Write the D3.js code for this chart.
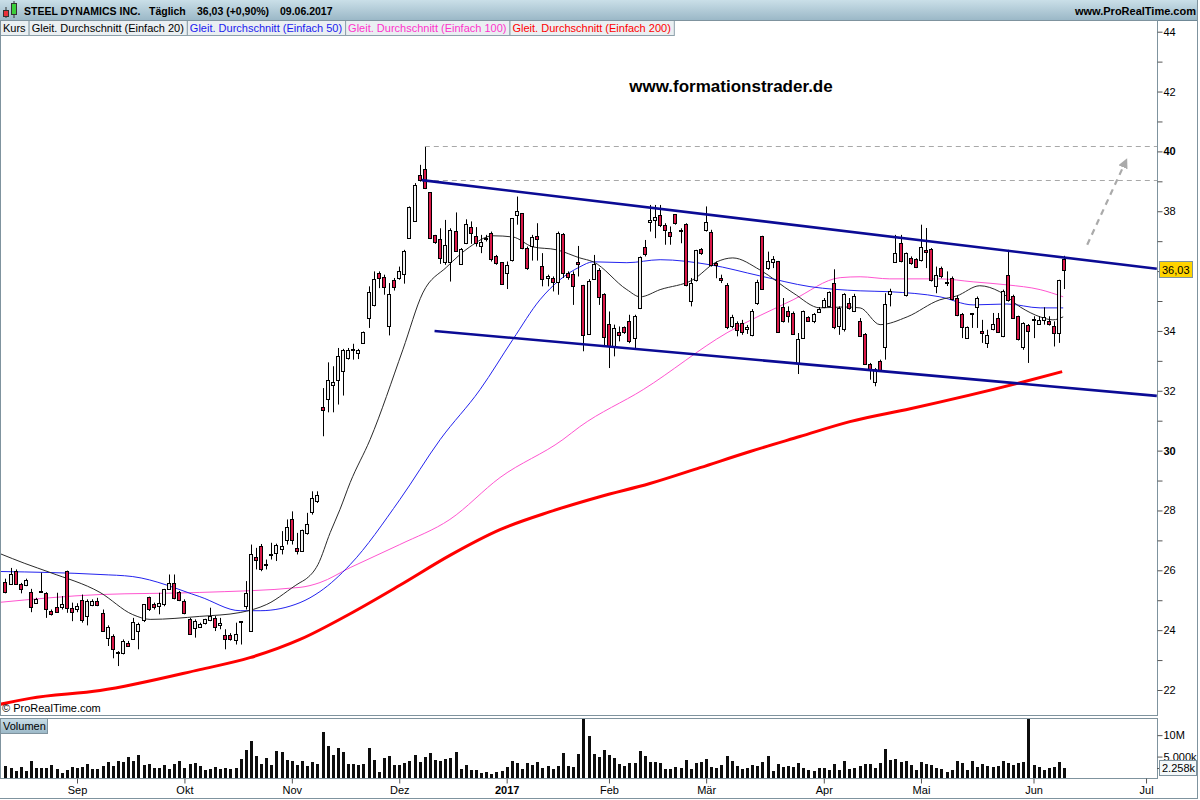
<!DOCTYPE html>
<html><head><meta charset="utf-8">
<script src="https://cdn.jsdelivr.net/npm/d3@7"></script>
<style>
body{margin:0;background:#fff;}
svg{display:block;font-family:Arial,"Liberation Sans",sans-serif;}
</style></head><body>
<svg id="c" width="1200" height="800"></svg>
<script>
// ---------- DATA ----------
const openP = [25.61,25.55,25.97,25.55,25.51,25.28,24.92,25.30,25.23,24.64,24.77,24.75,25.99,24.75,24.69,25.00,24.49,24.84,24.99,24.58,
23.75,23.80,23.25,23.25,23.58,23.71,23.97,24.33,25.12,24.86,24.83,24.86,25.38,25.56,25.27,24.97,24.38,24.08,24.11,24.21,
24.34,24.41,24.19,23.84,23.84,23.69,24.28,24.80,23.99,26.45,26.80,26.19,26.55,26.56,26.71,27.00,27.72,26.75,26.66,27.25,
27.95,28.32,31.46,31.72,32.18,32.37,32.67,33.07,33.40,33.26,33.60,34.43,34.85,35.93,35.80,34.18,35.69,35.77,35.90,37.12,
37.69,39.22,39.40,38.64,37.19,37.07,36.32,36.32,37.35,36.23,36.93,37.47,37.16,36.82,37.09,37.27,36.51,36.30,35.93,36.35,
37.88,37.94,36.77,36.84,37.16,36.18,35.76,35.76,35.63,37.25,35.95,35.90,36.29,35.54,33.90,35.73,36.04,35.23,34.23,33.50,
33.98,34.13,34.32,33.78,34.76,36.82,37.63,37.71,37.88,37.55,37.29,37.90,37.36,37.58,35.01,35.68,36.73,37.38,37.32,36.27,
35.76,35.54,34.17,34.28,34.28,34.05,33.85,34.93,37.18,36.12,36.30,36.34,34.80,34.68,34.60,32.93,33.76,34.46,34.32,34.65,
34.80,34.82,35.60,34.17,34.06,34.93,34.67,34.34,33.90,32.89,32.31,32.98,33.46,35.26,36.32,36.93,35.21,36.45,36.40,36.38,
36.71,36.73,35.51,36.10,35.60,35.76,35.10,34.56,33.76,34.57,34.79,33.99,33.60,34.06,34.43,33.82,35.87,35.18,34.49,33.46,
34.21,34.37,34.24,34.35,34.32,34.17,33.93,36.40];
const highP = [25.72,26.08,26.03,25.58,25.72,25.38,25.08,25.92,25.27,24.69,25.25,25.14,25.99,24.92,24.90,25.19,25.03,25.03,25.08,24.69,
24.16,23.86,23.30,23.69,23.64,24.41,24.25,24.86,25.12,24.92,25.25,25.38,25.86,25.86,25.31,25.03,24.41,24.36,24.25,24.38,
24.75,24.47,24.41,24.03,23.90,24.25,24.30,25.64,26.86,26.75,26.88,26.36,26.92,26.89,27.31,27.70,27.97,27.25,27.36,27.92,
28.64,28.64,32.09,32.95,32.82,33.43,33.40,33.43,33.57,33.40,33.98,35.49,35.99,35.99,35.88,35.60,35.77,36.15,36.71,38.16,
38.94,39.55,40.18,38.64,37.21,37.43,37.71,37.43,37.96,36.77,37.73,37.66,37.47,37.21,37.21,37.32,36.54,36.30,36.32,37.77,
38.49,37.94,36.82,37.21,37.60,36.60,35.88,35.82,37.32,37.27,35.99,35.99,36.84,35.54,35.73,36.54,36.10,35.26,34.65,34.21,
34.15,34.15,34.54,34.54,36.49,37.04,38.21,38.21,38.21,37.60,37.49,37.90,37.43,37.60,35.77,36.71,36.77,38.16,37.38,36.32,
35.88,35.60,34.54,34.32,34.37,34.20,34.73,35.71,37.18,36.65,36.50,36.34,35.10,34.82,34.65,33.93,34.68,34.49,34.60,34.80,
35.10,35.32,36.06,34.82,35.26,35.10,35.24,34.43,33.93,32.93,32.76,33.04,35.26,35.41,37.21,37.21,36.62,36.49,36.43,37.55,
37.44,36.77,36.15,36.15,35.99,35.82,35.18,34.60,34.15,34.60,35.15,34.37,34.04,34.60,34.60,35.38,36.71,35.21,34.51,34.29,
34.23,34.49,34.49,34.79,34.49,34.32,35.71,36.51];
const lowP = [25.23,25.53,25.53,25.23,25.47,24.60,24.89,25.25,24.41,24.49,24.58,24.69,24.58,24.30,24.60,24.25,24.16,24.80,24.80,23.94,
23.47,23.06,22.80,23.19,23.47,23.69,23.36,24.27,24.64,24.69,24.53,24.80,25.36,25.03,24.97,24.53,23.86,23.75,24.08,24.19,
24.30,23.97,24.03,23.36,23.65,23.52,23.52,24.69,23.99,26.03,25.97,26.03,26.36,26.31,26.53,26.86,26.86,26.53,26.64,27.19,
27.86,28.25,30.48,31.28,31.28,31.54,31.84,33.04,33.04,33.06,33.57,34.10,34.82,35.43,35.21,33.85,35.35,35.71,35.58,37.10,
37.66,38.99,38.74,37.07,36.91,36.24,36.21,35.65,36.66,36.21,36.90,36.91,36.82,36.60,36.99,36.32,36.21,35.54,35.40,36.32,
37.55,36.73,36.04,36.35,36.35,35.49,35.49,35.32,35.21,35.77,35.71,34.87,35.82,33.32,33.87,35.71,34.87,33.48,32.76,33.15,
33.65,33.90,33.59,33.43,34.73,36.49,37.32,37.10,37.47,36.88,36.88,37.55,36.93,35.49,34.82,35.65,36.54,37.32,36.15,35.76,
35.60,34.06,34.09,33.82,33.87,33.90,33.82,34.87,35.37,36.04,36.10,33.93,34.28,34.28,33.87,32.56,33.73,34.32,34.26,34.60,
34.76,34.80,34.06,33.87,33.98,34.71,34.63,33.82,32.87,32.37,32.15,32.65,33.04,34.82,36.29,36.29,35.15,36.21,36.10,36.32,
36.10,35.65,35.26,35.76,35.50,35.02,34.49,33.76,33.73,34.10,34.10,33.60,33.43,34.02,33.93,33.79,34.98,34.40,33.68,33.37,
32.93,33.76,34.21,34.21,34.18,33.48,33.60,35.40];
const closeP = [25.27,25.88,25.55,25.38,25.67,24.78,25.05,25.31,24.69,24.53,24.61,24.86,24.75,24.61,24.80,24.33,24.99,24.99,24.84,23.97,
24.11,23.36,23.27,23.64,23.49,24.28,24.21,24.86,24.71,24.75,24.92,25.36,25.58,25.06,24.99,24.56,23.88,24.30,24.22,24.36,
24.47,24.11,24.25,23.71,23.71,23.88,24.30,25.25,26.56,26.36,26.03,26.20,26.56,26.84,26.80,27.45,27.03,26.66,27.36,27.55,
28.42,28.52,31.35,32.37,32.29,33.17,33.37,33.35,33.41,33.37,33.96,35.30,35.73,35.77,35.45,35.24,35.46,36.01,36.68,38.14,
38.88,39.05,38.77,37.10,36.97,36.43,36.88,37.38,36.68,36.73,37.57,37.27,36.91,36.97,37.12,36.40,36.27,35.56,36.21,37.77,
38.01,36.77,36.10,37.13,37.07,35.76,35.82,35.62,37.27,35.95,35.83,35.49,36.23,33.87,35.68,36.24,35.15,33.79,33.48,34.09,
33.87,33.95,33.65,34.51,36.47,36.57,37.71,37.80,37.55,37.38,37.16,37.60,37.33,35.54,35.60,36.69,36.60,37.64,36.21,36.19,
35.68,34.12,34.48,34.06,33.98,34.12,34.65,35.62,35.40,36.34,36.40,33.96,34.34,34.51,33.89,33.74,34.65,34.34,34.56,34.74,
35.04,35.29,34.12,34.76,35.23,34.76,35.18,33.85,32.89,32.73,32.73,32.68,34.90,35.35,36.62,36.32,36.60,36.27,36.13,36.80,
36.65,35.69,35.88,35.84,35.65,35.06,34.54,34.13,34.13,34.60,35.10,33.91,33.87,34.23,33.96,35.32,35.02,34.43,33.71,34.26,
34.01,34.39,34.37,34.46,34.21,33.93,35.71,36.03];
// volume in millions of shares
const volumeM = [2.9,2.4,1.7,2.6,1.7,4.0,2.4,2.4,2.4,3.1,2.2,1.2,1.9,2.6,2.4,2.6,3.3,2.2,2.2,2.9,
3.8,2.9,4.0,3.8,5.0,4.0,5.4,3.1,3.3,2.4,2.4,3.1,2.2,3.3,4.0,2.4,3.3,3.6,2.9,1.9,
2.2,2.6,2.2,2.4,2.2,2.4,4.5,6.6,8.7,5.2,3.3,4.7,3.1,6.4,6.1,4.3,4.0,3.1,4.0,2.9,
3.8,3.3,10.8,7.5,5.4,7.1,6.1,3.3,3.3,3.1,3.3,7.1,4.3,1.5,4.7,5.2,3.1,3.1,3.5,4.0,
5.4,3.8,4.9,5.9,4.3,4.0,4.5,4.7,6.1,2.2,3.1,1.9,1.9,1.2,1.5,1.0,1.5,1.7,2.6,4.0,
3.6,2.2,3.6,3.1,3.8,2.4,2.9,2.2,2.9,5.9,2.9,2.6,5.7,13.8,9.8,5.7,5.0,6.6,5.4,4.7,
3.3,2.9,3.6,3.6,6.4,5.2,3.8,3.8,3.6,2.2,2.2,2.6,2.4,4.3,2.2,3.6,3.8,4.5,2.6,2.4,
3.1,5.2,4.0,2.9,2.2,2.4,3.1,2.9,3.8,5.2,1.7,3.3,2.6,2.9,2.6,3.6,2.4,1.9,1.7,2.4,
2.4,1.9,3.3,1.9,4.0,2.2,2.4,2.9,3.3,3.3,2.4,3.6,6.8,4.3,4.5,3.8,4.0,3.1,1.9,3.8,
3.3,3.1,2.4,2.2,1.5,1.9,4.0,3.6,1.9,4.0,2.6,3.3,2.9,2.6,2.9,4.0,3.6,3.1,3.6,3.8,
14.0,3.1,2.6,1.9,2.4,2.6,3.8,2.26];
// month ticks: trading-day index of first session of each month
const monthTickIdx = [14,35,56,77,98,118,137,160,179,201,223];
const monthLabels = ["Sep","Okt","Nov","Dez","2017","Feb","Mär","Apr","Mai","Jun","Jul"];
const priceTicks = [22,23,24,25,26,27,28,29,30,31,32,33,34,35,36,37,38,39,40,41,42,43,44];
const priceTickLabels = ["22","","24","","26","","28","","30","","32","","34","","","","38","","40","","42","","44"];
const volTicks = [10,5];
const volTickLabels = ["10M","5.000k"];
// moving averages: [trading-day index, price]
const ma20 = [[-1.1,26.56],[3.8,26.23],[8.7,25.93],[18.5,25.26],[24.9,24.52],[28.3,24.36],[38,24.46],[45.9,24.59],[51.1,24.86],[57.6,25.59],[58.6,25.69],[61.1,26.19],[63.5,27.26],[65.4,28.03],[67.4,28.93],[71.3,30.37],[77.7,33.37],[81.6,35.27],[86.3,36.14],[90.8,36.81],[95.3,37.18],[99.2,37.14],[103.1,36.81],[107.8,36.71],[112.3,36.44],[114.9,36.31],[121.5,35.38],[124.1,35.14],[128,35.38],[134.4,35.71],[139.1,36.31],[142.2,36.44],[147.5,36.04],[154,35.27],[159.3,34.77],[163.8,34.80],[167.1,34.77],[171,34.21],[176.3,34.47],[182.7,35.04],[186,35.17],[190.5,35.51],[194.4,35.31],[198.4,34.80],[202.3,34.47],[204.8,34.37],[206.8,34.47]];
const ma50 = [[-1.1,25.96],[18.5,25.86],[24.9,25.79],[38,25.12],[45.9,24.65],[49.8,24.65],[57.6,24.92],[61.5,25.29],[67.4,26.19],[77.1,28.36],[85,30.37],[92.8,32.04],[99.2,33.71],[104.5,35.04],[108.4,35.71],[112.3,36.14],[114.9,36.31],[121.5,36.28],[128,36.38],[137.8,36.21],[147.5,35.84],[157.3,35.48],[167.1,35.34],[172.9,35.31],[182.7,35.14],[189.2,34.87],[195.8,34.90],[202.3,34.77],[206.8,34.77]];
const ma100 = [[-1.1,24.93],[18.5,25.19],[38,25.26],[57.6,25.43],[61.5,25.59],[67.4,26.09],[77.1,26.86],[86.9,27.70],[96.7,29.10],[109,30.37],[112.3,30.80],[124.7,32.04],[141.1,33.94],[154,35.04],[163.2,35.78],[167.1,35.81],[172.9,35.74],[182.7,35.74],[189.2,35.64],[195.8,35.54],[202.3,35.38],[206.8,35.14]];
const ma200 = [[-1.1,21.52],[4.8,21.72],[18.5,21.98],[38,22.68],[47.8,23.08],[57.6,23.69],[67.4,24.55],[77.1,25.50],[86.9,26.50],[96.7,27.36],[106.5,27.96],[116.2,28.46],[126,28.90],[135.8,29.43],[145.6,29.97],[155.3,30.47],[165.1,30.97],[176.9,31.40],[198.4,32.27],[206.6,32.64]];
// drawn channel, resistance levels and target arrow: [index, price]
const trendUpper = [[81.4,39.04],[225.1,36.08]];
const trendLower = [[83.9,34.00],[225.1,31.83]];
const dashedLevels = [40.17,39.05];
const dashedStartIdx = 82;
const targetArrow = [[211.5,36.88],[218.9,39.62]];
const lastPriceLabel = "36,03";
const lastVolLabel = "2.258k";
const legendItems = [
  {t:"Kurs", c:"#000"},
  {t:"Gleit. Durchschnitt (Einfach 20)", c:"#000"},
  {t:"Gleit. Durchschnitt (Einfach 50)", c:"#1b1bef"},
  {t:"Gleit. Durchschnitt (Einfach 100)", c:"#ff33cc"},
  {t:"Gleit. Durchschnitt (Einfach 200)", c:"#ff0000"}
];

// ---------- LAYOUT ----------
const svg = d3.select("#c");
const plotR = 1157, plotT = 20, plotB = 715, volT = 718, volB = 778;
const frameCol = "#7f939e";

const x = d3.scaleLinear().domain([0,207]).range([5.4,1064.2]);
const y = d3.scaleLinear().domain([22,44]).range([690,31.7]);
const yv = d3.scaleLinear().domain([0,14]).range([volB,volT]);

const defs = svg.append("defs");
const hg = defs.append("linearGradient").attr("id","hg").attr("x1",0).attr("y1",0).attr("x2",0).attr("y2",1);
hg.append("stop").attr("offset","0%").attr("stop-color","#cadfe8");
hg.append("stop").attr("offset","100%").attr("stop-color","#9bb8c7");
defs.append("clipPath").attr("id","mainClip").append("rect")
  .attr("x",1).attr("y",plotT+1).attr("width",plotR-1).attr("height",plotB-plotT-1);
defs.append("clipPath").attr("id","volClip").append("rect")
  .attr("x",1).attr("y",volT+1).attr("width",plotR-1).attr("height",volB-volT-1);
defs.append("marker").attr("id","ah").attr("viewBox","0 0 10 10").attr("refX",5).attr("refY",5)
  .attr("markerWidth",4.5).attr("markerHeight",4.5).attr("orient","auto")
  .append("path").attr("d","M0,0 L10,5 L0,10 z").attr("fill","#aaaaaa");

svg.append("rect").attr("width",1200).attr("height",800).attr("fill","#fff");

// header
svg.append("rect").attr("x",0).attr("y",0).attr("width",1198).attr("height",20).attr("fill","url(#hg)");
svg.append("line").attr("x1",0).attr("x2",1198).attr("y1",20.5).attr("y2",20.5).attr("stroke","#6f8896");
// small candle icon
svg.append("line").attr("x1",6).attr("x2",6).attr("y1",7).attr("y2",18).attr("stroke","#333");
svg.append("rect").attr("x",3.5).attr("y",10.5).attr("width",5).attr("height",6).attr("fill","#e8303a").attr("stroke","#333");
svg.append("line").attr("x1",14).attr("x2",14).attr("y1",1).attr("y2",18).attr("stroke","#333");
svg.append("rect").attr("x",11.5).attr("y",3.5).attr("width",5).attr("height",11).attr("fill","#3ccf3c").attr("stroke","#333");
const hdr = [["STEEL DYNAMICS INC.",24],["Täglich",149],["36,03 (+0,90%)",197],["09.06.2017",280]];
svg.selectAll("text.hdr").data(hdr).join("text").attr("class","hdr")
  .attr("x",d=>d[1]).attr("y",15).attr("font-size","10.5px").attr("font-weight","bold").attr("fill","#000").text(d=>d[0]);
svg.append("text").attr("x",1196).attr("y",15).attr("text-anchor","end").attr("font-size","11px")
  .attr("font-weight","bold").text("www.ProRealTime.com");

// panels
const mainG = svg.append("g").attr("clip-path","url(#mainClip)");
const volG = svg.append("g").attr("clip-path","url(#volClip)");

// MA lines
const line = d3.line().x(d=>x(d[0])).y(d=>y(d[1])).curve(d3.curveMonotoneX);
const maSpecs = [
  {d:ma200,c:"#ff0000",w:3},
  {d:ma100,c:"#ff55d0",w:1},
  {d:ma50,c:"#2323ee",w:1},
  {d:ma20,c:"#2a2a2a",w:1}
];
maSpecs.forEach(m=>{
  mainG.append("path").attr("d",line(m.d)).attr("fill","none").attr("stroke",m.c).attr("stroke-width",m.w);
});

// candles
const idx = d3.range(openP.length);
const cxOf = i => Math.round(x(i));
const cg = mainG.append("g");
cg.selectAll("line.wick").data(idx).join("line").attr("class","wick")
  .attr("x1",i=>cxOf(i)+0.5).attr("x2",i=>cxOf(i)+0.5)
  .attr("y1",i=>y(highP[i])).attr("y2",i=>y(lowP[i]))
  .attr("stroke","#000").attr("stroke-width",1);
cg.selectAll("rect.body").data(idx).join("rect").attr("class","body")
  .attr("x",i=>cxOf(i)-1.5).attr("width",3)
  .attr("y",i=>Math.round(y(Math.max(openP[i],closeP[i])))+0.5)
  .attr("height",i=>Math.max(1,Math.round(Math.abs(y(openP[i])-y(closeP[i])))))
  .attr("fill",i=>closeP[i]>=openP[i]?"#efefef":"#d91848")
  .attr("stroke","#000").attr("stroke-width",1);

// dashed resistance levels
mainG.selectAll("line.lvl").data(dashedLevels).join("line").attr("class","lvl")
  .attr("x1",x(dashedStartIdx)).attr("x2",plotR)
  .attr("y1",d=>Math.round(y(d))+0.5).attr("y2",d=>Math.round(y(d))+0.5)
  .attr("stroke","#a8a8a8").attr("stroke-width",1).attr("stroke-dasharray","5,4");

// trend channel
[trendUpper,trendLower].forEach(t=>{
  mainG.append("line").attr("x1",x(t[0][0])).attr("y1",y(t[0][1])).attr("x2",x(t[1][0])).attr("y2",y(t[1][1]))
    .attr("stroke","#0b0b95").attr("stroke-width",2.6);
});

// target arrow
mainG.append("line").attr("x1",x(targetArrow[0][0])).attr("y1",y(targetArrow[0][1]))
  .attr("x2",x(targetArrow[1][0])).attr("y2",y(targetArrow[1][1]))
  .attr("stroke","#aaaaaa").attr("stroke-width",2.2).attr("stroke-dasharray","6,5").attr("marker-end","url(#ah)");

// watermark texts
svg.append("text").attr("x",731).attr("y",92).attr("text-anchor","middle").attr("font-size","17px")
  .attr("font-weight","bold").attr("fill","#000").text("www.formationstrader.de");
svg.append("text").attr("x",2).attr("y",712).attr("font-size","11px").attr("fill","#000").text("© ProRealTime.com");

// legend row
let lx = 0;
const legG = svg.append("g");
legendItems.forEach(it=>{
  const t = legG.append("text").attr("x",lx+3).attr("y",31.5).attr("font-size","11px").attr("fill",it.c).text(it.t);
  const w = t.node().getComputedTextLength()+6;
  legG.insert("rect","text").attr("x",lx+0.5).attr("y",20.5).attr("width",w).attr("height",15)
    .attr("fill","#eaeff2").attr("stroke","#8ea1ab");
  lx += w;
});

// frames
svg.append("rect").attr("x",0.5).attr("y",20.5).attr("width",plotR).attr("height",plotB-20)
  .attr("fill","none").attr("stroke",frameCol);
svg.append("rect").attr("x",0.5).attr("y",volT+0.5).attr("width",plotR).attr("height",volB-volT)
  .attr("fill","none").attr("stroke",frameCol);
svg.append("line").attr("x1",1197.5).attr("x2",1197.5).attr("y1",0).attr("y2",799).attr("stroke",frameCol);
svg.append("line").attr("x1",0).attr("x2",1198).attr("y1",798.5).attr("y2",798.5).attr("stroke",frameCol);

// price axis (right)
const pax = svg.append("g").attr("transform",`translate(${plotR+0.5},0)`)
  .call(d3.axisRight(y).tickValues(priceTicks).tickSize(5).tickFormat((d,i)=>priceTickLabels[i]));
pax.select(".domain").remove();
pax.selectAll(".tick line").attr("stroke","#555");
pax.selectAll(".tick text").attr("font-size","11px").attr("font-family","Arial, 'Liberation Sans', sans-serif")
  .attr("fill","#000").attr("x",6).attr("font-weight",d=>(d===30||d===40)?"bold":"normal");
// last price label
const lpY = Math.round(y(closeP[closeP.length-1]));
svg.append("rect").attr("x",1159.5).attr("y",lpY-8.5).attr("width",33).attr("height",16)
  .attr("fill","#ffd400").attr("stroke","#7f939e");
svg.append("text").attr("x",1162).attr("y",lpY+4).attr("font-size","11px").text(lastPriceLabel);

// volume bars
volG.selectAll("rect.vol").data(idx).join("rect").attr("class","vol")
  .attr("x",i=>cxOf(i)-1).attr("width",3)
  .attr("y",i=>Math.round(yv(volumeM[i]))).attr("height",i=>volB-Math.round(yv(volumeM[i])))
  .attr("fill","#0d0d0d");
// volume axis
const vax = svg.append("g").attr("transform",`translate(${plotR+0.5},0)`)
  .call(d3.axisRight(yv).tickValues(volTicks).tickSize(5).tickFormat((d,i)=>volTickLabels[i]));
vax.select(".domain").remove();
vax.selectAll(".tick line").attr("stroke","#555");
vax.selectAll(".tick text").attr("font-size","11px").attr("font-family","Arial, 'Liberation Sans', sans-serif").attr("fill","#000").attr("x",6);
const lvY = Math.round(yv(volumeM[volumeM.length-1]));
svg.append("line").attr("x1",plotR).attr("x2",plotR+5).attr("y1",lvY+0.5).attr("y2",lvY+0.5).attr("stroke","#555");
svg.append("rect").attr("x",1159.5).attr("y",lvY-7.5).attr("width",37).attr("height",15)
  .attr("fill","#f4f8fa").attr("stroke","#7f939e");
svg.append("text").attr("x",1162).attr("y",lvY+4).attr("font-size","11px").text(lastVolLabel);
// volume label
const vg = svg.append("g");
vg.append("rect").attr("x",0.5).attr("y",volT+0.5).attr("width",47).attr("height",15).attr("fill","url(#hg)").attr("stroke","#7f939e");
vg.append("text").attr("x",3).attr("y",volT+12).attr("font-size","11px").text("Volumen");

// time axis
const tax = svg.append("g").attr("transform",`translate(0,${volB+0.5})`)
  .call(d3.axisBottom(x).tickValues(monthTickIdx).tickSize(5).tickFormat((d,i)=>monthLabels[i]));
tax.select(".domain").remove();
tax.selectAll(".tick line").attr("stroke","#555");
tax.selectAll(".tick text").attr("font-size","11px").attr("font-family","Arial, 'Liberation Sans', sans-serif")
  .attr("fill","#000").attr("y",8).attr("font-weight",(d,i)=>monthLabels[i]==="2017"?"bold":"normal");
</script>
</body></html>
